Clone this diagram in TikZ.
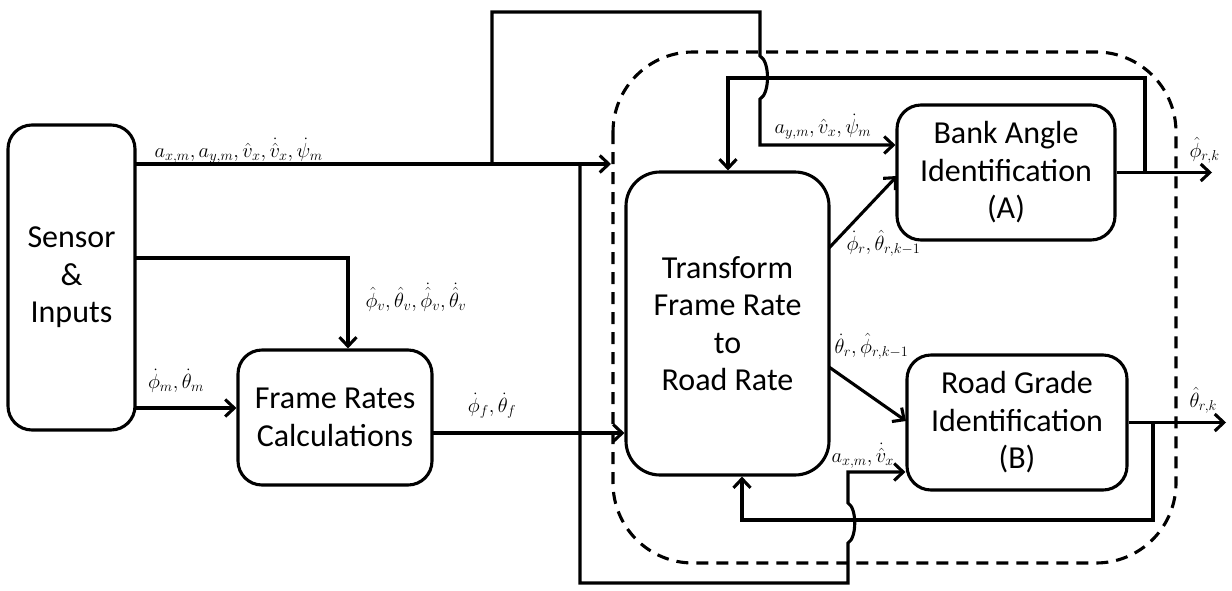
\RequirePackage{fix-cm}
\documentclass[tikz,border=0pt]{standalone}
\usepackage{amsmath}
\usepackage{fontspec}
\setmainfont{Carlito}
\usetikzlibrary{arrows.meta,calc}

\begin{document}
\begin{tikzpicture}[x=1pt,y=-1pt,
  line width=3.1pt,
  block/.style={draw, rounded corners=24pt, align=center, inner sep=0pt,
    font=\fontsize{32}{37.5}\selectfont},
  flow/.style={-{Straight Barb[length=9pt,width=17pt,line width=3.1pt]}},
  sig/.style={font=\fontsize{20.5}{24}\selectfont, inner sep=0pt},
  region/.style={dash pattern=on 12pt off 8pt, rounded corners=80pt}
]
\useasboundingbox (0,0) rectangle (1232,590);

% processing blocks
\node[block, minimum width=127pt, minimum height=305pt] (sensor) at (71.5,277.5) {Sensor\\\&\\Inputs};
\node[block, minimum width=194pt, minimum height=135pt] (frame) at (335,417.5) {Frame Rates\\Calculations};
\node[block, rounded corners=34pt, minimum width=203pt, minimum height=303pt] (trans) at (727.5,323.5) {Transform\\Frame Rate\\to\\Road Rate};
\node[block, minimum width=218pt, minimum height=135pt] (bank) at (1006,172.5) {Bank Angle\\Identification\\(A)};
\node[block, minimum width=220pt, minimum height=135pt] (grade) at (1017,422.5) {Road Grade\\Identification\\(B)};

% estimator boundary
\draw[region] (613,52) rectangle (1176,563);

% junction and corner points
\coordinate (o1) at (135,164);
\coordinate (o2) at (135,258);
\coordinate (o3) at (135,408);
\coordinate (dashin) at (611,164);
\coordinate (t1) at (492,164);
\coordinate (t2) at (760,12);
\coordinate (t3) at (760,145);
\coordinate (b1) at (580,164);
\coordinate (b2) at (848,583);
\coordinate (b3) at (848,472);
\coordinate (f1) at (348,258);
\coordinate (fo) at (432,433);
\coordinate (d1) at (829,248);
\coordinate (d2) at (897,176);
\coordinate (d3) at (829,367);
\coordinate (d4) at (906,421);
\coordinate (pk) at (1212,172.5);
\coordinate (tk) at (1226,422.5);
\coordinate (fa) at (1145,172.5);
\coordinate (fa2) at (728,78);
\coordinate (fb) at (1153,422.5);
\coordinate (fb2) at (742,520);

% sensor outputs
\draw[flow] (o1) -- (dashin);
\draw[flow] (t1) |- (t2) -- (760,56) .. controls (770,61) and (770,94) .. (760,99) -- (t3) -- (t3 -| bank.west);
\draw[flow] (b1) |- (b2) -- (848,543) .. controls (857,538) and (857,508) .. (848,503) -- (b3) -- (b3 -| grade.west);
\draw[flow] (o2) -- (f1) -- (f1 |- frame.north);
\draw[flow] (o3) -- (o3 -| frame.west);
\draw[flow] (fo) -- (fo -| trans.west);

% road-rate outputs
\draw[flow] (d1) -- (d2);
\draw[flow] (d3) -- (d4);

% identification outputs and feedback
\draw[flow] (bank.east) -- (pk);
\draw[flow] (grade.east) -- (tk);
\draw[flow] (fa) |- (fa2) -- (fa2 |- trans.north);
\draw[flow] (fb) |- (fb2) -- (fb2 |- trans.south);

% signal labels
\node[sig, anchor=base west] (l1) at (153,157) {$a_{x,m}, a_{y,m}, \hat{v}_x, \dot{\hat{v}}_x, \dot{\psi}_m$};
\node[sig, anchor=base west] (l2) at (773,133) {$a_{y,m}, \hat{v}_x, \dot{\psi}_m$};
\node[sig, anchor=base west] (l3) at (364,307) {$\hat{\phi}_v, \hat{\theta}_v, \dot{\hat{\phi}}_v, \dot{\hat{\theta}}_v$};
\node[sig, anchor=base] (l4) at (176,388) {$\dot{\phi}_m, \dot{\theta}_m$};
\node[sig, anchor=base] (l5) at (492,412) {$\dot{\phi}_f, \dot{\theta}_f$};
\node[sig, anchor=base west] (l6) at (845,250) {$\dot{\phi}_r, \hat{\theta}_{r,k-1}$};
\node[sig, anchor=base west] (l7) at (833,353) {$\dot{\theta}_r, \hat{\phi}_{r,k-1}$};
\node[sig, anchor=base west] (l8) at (830,462) {$a_{x,m}, \dot{\hat{v}}_x$};
\node[sig, anchor=base west] (l9) at (1188,157) {$\hat{\phi}_{r,k}$};
\node[sig, anchor=base west] (l10) at (1188,407) {$\hat{\theta}_{r,k}$};
\end{tikzpicture}
\end{document}
